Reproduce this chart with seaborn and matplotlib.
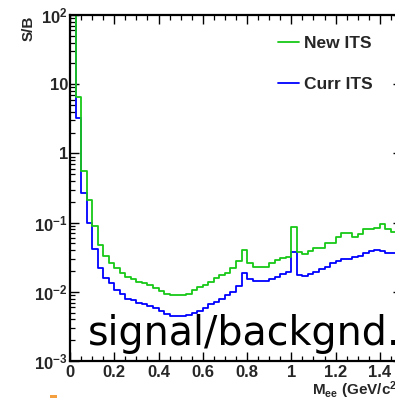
import numpy as np
import pandas as pd
import matplotlib
matplotlib.use("Agg")
import matplotlib.pyplot as plt
from matplotlib.lines import Line2D
from matplotlib.patches import Rectangle
from matplotlib.ticker import MultipleLocator, LogLocator, NullFormatter
import seaborn as sns

# ---------------- data ----------------
bin_width = 0.025
bin_edges = [round(v, 4) for v in np.arange(0, 1.5 + bin_width / 2, bin_width)]

new_its = [150, 6.6, 0.55, 0.21, 0.088, 0.048, 0.033, 0.0264, 0.0218, 0.0189,
           0.0165, 0.0151, 0.0140, 0.0132, 0.0125, 0.0112, 0.0104, 0.0093, 0.0090, 0.0090,
           0.0090, 0.0093, 0.0106, 0.0116, 0.0125, 0.0137, 0.0157, 0.0175, 0.0189, 0.0223,
           0.0279, 0.040, 0.026, 0.0231, 0.0231, 0.0231, 0.0258, 0.0288, 0.0305, 0.0322,
           0.087, 0.038, 0.0352, 0.0389, 0.0434, 0.0434, 0.0513, 0.0513, 0.0613, 0.070,
           0.070, 0.0613, 0.0677, 0.080, 0.080, 0.0826, 0.0944, 0.080, 0.0724, 0.075]

curr_its = [120, 3.3, 0.27, 0.100, 0.042, 0.0224, 0.0160, 0.0133, 0.0106, 0.0093,
            0.0080, 0.0076, 0.0070, 0.0067, 0.0062, 0.0058, 0.0053, 0.0048, 0.0044, 0.0044,
            0.0045, 0.0046, 0.0049, 0.0053, 0.0059, 0.0066, 0.0072, 0.0080, 0.0090, 0.0100,
            0.0121, 0.0190, 0.0153, 0.0145, 0.0145, 0.0145, 0.0153, 0.0165, 0.0181, 0.0195,
            0.038, 0.0175, 0.0169, 0.0181, 0.0195, 0.0211, 0.0231, 0.0258, 0.0279, 0.0298,
            0.0298, 0.0315, 0.0333, 0.036, 0.0393, 0.0402, 0.0389, 0.036, 0.036, 0.036]

series_names = ["New ITS", "Curr ITS"]
x_tick_values = [0, 0.2, 0.4, 0.6, 0.8, 1.0, 1.2, 1.4]
x_tick_labels = ["0", "0.2", "0.4", "0.6", "0.8", "1", "1.2", "1.4"]
y_tick_values = [1e-3, 1e-2, 1e-1, 1, 10, 100]
y_tick_labels = [r"$10^{-3}$", r"$10^{-2}$", r"$10^{-1}$", "1", "10", r"$10^{2}$"]

edges_arr = np.array(bin_edges)
bin_centers = (edges_arr[:-1] + edges_arr[1:]) / 2
df = pd.DataFrame({"mass": bin_centers, "new": new_its, "curr": curr_its})

# ---------------- style ----------------
sns.set_style("ticks")
plt.rcParams["font.family"] = ["Liberation Sans", "DejaVu Sans"]
plt.rcParams["font.weight"] = "bold"
plt.rcParams["mathtext.fontset"] = "custom"
plt.rcParams["mathtext.rm"] = "Liberation Sans:bold"
plt.rcParams["mathtext.bf"] = "Liberation Sans:bold"
plt.rcParams["mathtext.it"] = "Liberation Sans:bold"
plt.rcParams["mathtext.default"] = "bf"

green = "#18c818"
blue = "#0000ff"

W, H = 395, 398
fig = plt.figure(figsize=(W / 100, H / 100), dpi=100)
ax = fig.add_axes([70 / W, 37 / H, 332 / W, 346 / H])

sns.histplot(data=df, x="mass", weights="curr", bins=bin_edges, element="step",
             fill=False, color=blue, linewidth=1.3, ax=ax)
sns.histplot(data=df, x="mass", weights="new", bins=bin_edges, element="step",
             fill=False, color=green, linewidth=1.3, ax=ax)

ax.set_yscale("log")
ax.set_xlim(0, 1.5)
ax.set_ylim(1e-3, 1e2)
ax.set_xlabel("")
ax.set_ylabel("")

ax.set_xticks(x_tick_values, x_tick_labels)
ax.xaxis.set_minor_locator(MultipleLocator(0.05))
ax.set_yticks(y_tick_values, y_tick_labels)
ax.yaxis.set_minor_locator(LogLocator(base=10, subs=range(2, 10)))
ax.yaxis.set_minor_formatter(NullFormatter())

ax.tick_params(which="both", direction="in", top=True, right=True, color="black")
ax.tick_params(which="major", length=6.5, width=1.0)
ax.tick_params(which="minor", length=3.3, width=0.9)
ax.tick_params(axis="x", which="major", pad=3, labelsize=12)
ax.tick_params(axis="y", which="major", pad=1.5, labelsize=12)
for s in ax.spines.values():
    s.set_linewidth(1.6)
    s.set_color("black")

# legend
handles = [Line2D([], [], color=green, lw=1.3), Line2D([], [], color=blue, lw=1.3)]
ax.legend(handles=handles, labels=series_names, frameon=False, loc="upper left",
          bbox_to_anchor=(278 / W, 1 - 36 / H), bbox_transform=fig.transFigure,
          prop={"weight": "bold", "size": 12.5}, handlelength=1.2, handletextpad=0.3,
          labelspacing=1.5, borderpad=0, borderaxespad=0)

# axis titles
fig.text(28.5 / W, 1 - 16 / H, "S/B", rotation=90, ha="center", va="top",
         fontsize=11, fontweight="bold")
fig.text(312 / W, 3 / H, r"M$_{ee}$ (GeV/c$^{2}$)", ha="left", va="baseline",
         fontsize=11, fontweight="bold")

# overlay caption
fig.text(88 / W, (H - 345) / H, "signal/backgnd.", family=["DejaVu Sans"],
         fontweight="normal", fontsize=28.5, ha="left", va="baseline", color="black")

# small orange mark at the bottom edge
fig.patches.append(Rectangle((50 / W, 0), 7 / W, 3 / H, transform=fig.transFigure,
                             facecolor="#f5a040", edgecolor="none"))

fig.savefig("out.png", dpi=100)
